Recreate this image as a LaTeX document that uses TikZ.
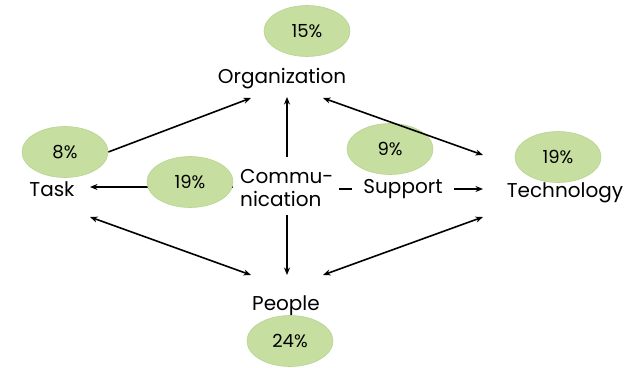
\documentclass[tikz,border=0pt]{standalone}
\usepackage{fontspec}
\setmainfont{Poppins}
\usetikzlibrary{arrows.meta,calc,shapes.geometric}
\definecolor{leaf}{RGB}{198,223,160}
\definecolor{leafedge}{RGB}{184,212,144}
\pgfdeclarelayer{low}
\pgfdeclarelayer{mid}
\pgfdeclarelayer{lines}
\pgfsetlayers{low,mid,lines,main}
\begin{document}
\begin{tikzpicture}[x=1pt,y=-1pt,
  word/.style={font=\fontsize{20}{23}\selectfont, inner sep=0pt, anchor=base},
  share/.style={ellipse, fill=leaf, draw=leafedge, line width=0.6pt,
    minimum width=86pt, minimum height=51pt, inner sep=0pt,
    font=\fontsize{18}{20}\selectfont},
  tip/.tip={Stealth[length=7.5pt,width=6pt]},
  link/.style={line width=1.6pt, -tip},
  both/.style={line width=1.6pt, tip-tip}]
\useasboundingbox (0,0) rectangle (632,367);

% factor labels
\node[word] (org) at (282,83) {Organization};
\node[word] (task) at (52,196) {Task};
\node[font=\fontsize{20}{23}\selectfont, inner sep=0pt, align=left, anchor=west] (comm) at (240,188) {Commu-\\nication};
\node[word] (people) at (286,310) {People};
\node[word] (tech) at (565,197) {Technology};

% shares
\node[share] (p15) at (307,31) {15\%};
\node[share] (p8) at (65,152) {8\%};
\node[share] (p19a) at (190,182) {19\%};
\node[share] (p19b) at (558,157) {19\%};
\node[share] (p24) at (290,341) {24\%};

% communication runs through the support label to technology
\begin{pgfonlayer}{low}
\draw[link] ($(comm.west)+(99,1)$) -- ($(tech.base)+(-82,-8)$);
\end{pgfonlayer}
\begin{pgfonlayer}{mid}
\node[word, fill=white, inner xsep=11pt] (support) at (403,193) {Support};
\node[share] (p9) at (390,149) {9\%};
\end{pgfonlayer}

% connectors
\begin{pgfonlayer}{lines}
\draw[link] (p8.east) -- ($(org.base)+(-31,15)$);
\draw[link] ($(comm.west)+(47,-31)$) -- ($(org.base)+(5,14)$);
\draw[both] ($(org.base)+(41,15)$) -- ($(tech.base)+(-82,-42)$);
\draw[link] ($(comm.west)+(-7,-1)$) -- ($(task.base)+(38,-9)$);
\draw[link] ($(comm.west)+(47,27)$) -- ($(people.base)+(1,-35)$);
\draw[both] ($(task.base)+(38,21)$) -- ($(people.base)+(-35,-35)$);
\draw[both] ($(people.base)+(37,-35)$) -- ($(tech.base)+(-82,20)$);
\end{pgfonlayer}
\end{tikzpicture}
\end{document}
